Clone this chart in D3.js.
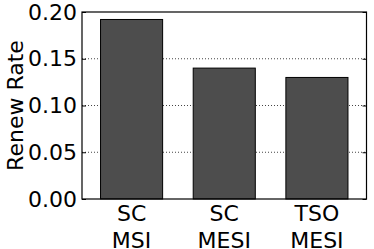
<!DOCTYPE html>
<html>
<head>
<meta charset="utf-8">
<script src="https://cdn.jsdelivr.net/npm/d3@7"></script>
<style>
    body { margin: 0; background: #fff; }
    text { font-family: "DejaVu Sans", sans-serif; fill: #000; }
</style>
</head>
<body>
<div id="vis"></div>
<script>
var configs = [['SC', 'MSI'], ['SC', 'MESI'], ['TSO', 'MESI']];
var renewRate = [0.192, 0.140, 0.130];
var yTicks = [0.00, 0.05, 0.10, 0.15, 0.20];

var svg = d3.select('#vis')
    .append('svg')
    .attr('width', 374)
    .attr('height', 249);

var margin = {left: 82, top: 12, right: 7.5, bottom: 50};
var width = 374 - margin.left - margin.right;
var height = 249 - margin.top - margin.bottom;

var g = svg.append('g')
    .attr('transform', 'translate(' + margin.left + ',' + margin.top + ')');

var xScale = d3.scaleBand()
    .domain(d3.range(configs.length))
    .range([0, width])
    .paddingInner(0.33)
    .paddingOuter(0.2);

var yScale = d3.scaleLinear().domain([0, 0.2]).range([height, 0]);

// dotted grid
g.selectAll('.grid')
    .data(yTicks.slice(1, 4))
    .enter().append('line')
    .attr('x1', 0).attr('x2', width)
    .attr('y1', function(d) { return yScale(d); })
    .attr('y2', function(d) { return yScale(d); })
    .attr('stroke', '#444')
    .attr('stroke-width', 1)
    .attr('stroke-dasharray', '1,2');

g.selectAll('.bar')
    .data(renewRate)
    .enter().append('rect')
    .attr('x', function(d, i) { return xScale(i); })
    .attr('y', function(d) { return yScale(d); })
    .attr('width', xScale.bandwidth())
    .attr('height', function(d) { return height - yScale(d); })
    .attr('fill', '#4d4d4d')
    .attr('stroke', '#000')
    .attr('stroke-width', 1);

// inward ticks on both sides
var yAxisL = d3.axisLeft(yScale).tickValues(yTicks).tickSize(-4).tickPadding(5)
    .tickFormat(d3.format('.2f'));
var yAxisR = d3.axisRight(yScale).tickValues(yTicks).tickSize(-4).tickFormat('');

var ax = g.append('g').call(yAxisL);
ax.select('.domain').remove();
ax.selectAll('text').style('font-size', '22px').attr('font-family', null);

var axR = g.append('g').attr('transform', 'translate(' + width + ',0)').call(yAxisR);
axR.select('.domain').remove();

g.append('rect')
    .attr('width', width).attr('height', height)
    .attr('fill', 'none').attr('stroke', '#000').attr('stroke-width', 1.2);

// x labels (two lines)
var xl = g.selectAll('.xlab')
    .data(configs)
    .enter().append('text')
    .attr('text-anchor', 'middle')
    .style('font-size', '22px')
    .attr('transform', function(d, i) {
        return 'translate(' + (xScale(i) + xScale.bandwidth() / 2) + ',' + (height + 22) + ')';
    });
xl.append('tspan').attr('x', 0).attr('y', 0).text(function(d) { return d[0]; });
xl.append('tspan').attr('x', 0).attr('y', 26.5).text(function(d) { return d[1]; });

svg.append('text')
    .attr('transform', 'translate(23,' + (margin.top + height / 2) + ')rotate(-90)')
    .attr('text-anchor', 'middle')
    .style('font-size', '22px')
    .text('Renew Rate');
</script>
</body>
</html>
